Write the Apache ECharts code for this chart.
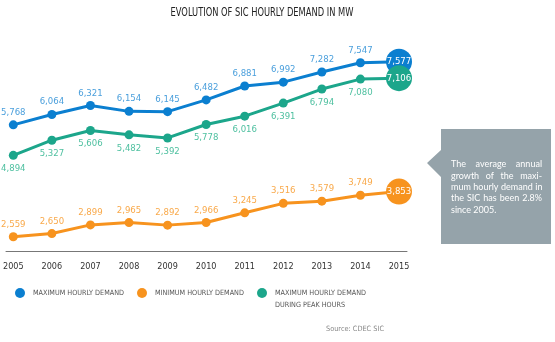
<!DOCTYPE html>
<html>
<head>
<meta charset="utf-8">
<script src="https://cdn.jsdelivr.net/npm/echarts@6/dist/echarts.min.js"></script>
<style>html,body{margin:0;padding:0;background:#fff}#c{width:555px;height:342px}</style>
</head>
<body>
<div id="c"></div>
<script>
const years = ['2005','2006','2007','2008','2009','2010','2011','2012','2013','2014','2015'];
const maxDemand = [5768,6064,6321,6154,6145,6482,6881,6992,7282,7547,7577];
const minDemand = [2559,2650,2899,2965,2892,2966,3245,3516,3579,3749,3853];
const peakDemand = [4894,5327,5606,5482,5392,5778,6016,6391,6794,7080,7106];
const titleText = 'EVOLUTION OF SIC HOURLY DEMAND IN MW';
const noteLines = ['The average annual','growth of the maxi-','mum hourly demand in','the SIC has been 2.8%','since 2005.'];
const sourceText = 'Source: CDEC SIC';

const NARROW = '"Liberation Sans Narrow","DejaVu Sans Condensed",sans-serif';
const NOTEFONT = 'Lato,"Open Sans",sans-serif';
const fmt = v => Number(v).toLocaleString('en-US');

function mkData(vals) {
  const last = vals.length - 1;
  return vals.map((v, i) => i === last
    ? {value: v, symbolSize: 26, label: {position: 'inside', distance: 0, color: '#fff', fontSize: 9.5}}
    : v);
}

function mkSeries(name, vals, color, labelColor, pos, dist) {
  return {
    name, type: 'line', data: mkData(vals),
    symbol: 'circle', symbolSize: 9, showSymbol: true,
    lineStyle: {color, width: 3}, itemStyle: {color},
    label: {show: true, position: pos, distance: dist, color: labelColor, fontSize: 9.5,
      fontFamily: NARROW, formatter: p => fmt(p.value)},
    emphasis: {disabled: true}, animation: false, z: 3
  };
}

// justified note text
const measureCtx = document.createElement('canvas').getContext('2d');
const noteFontSize = 9;
measureCtx.font = noteFontSize + 'px ' + NOTEFONT;
const noteLeft = 451, noteRight = 542, noteTop = 160, noteLH = 11.3;
const noteEls = [];
noteLines.forEach((line, li) => {
  const words = line.split(' ');
  const y = noteTop + li * noteLH;
  const isLast = li === noteLines.length - 1;
  if (isLast || words.length === 1) {
    noteEls.push({type: 'text', x: noteLeft, y: y, silent: true,
      style: {text: line, fill: '#fff', font: noteFontSize + 'px ' + NOTEFONT, textVerticalAlign: 'top'}});
    return;
  }
  const widths = words.map(w => measureCtx.measureText(w).width);
  const total = widths.reduce((a, b) => a + b, 0);
  const gap = Math.max(2.5, (noteRight - noteLeft - total) / (words.length - 1));
  let x = noteLeft;
  words.forEach((w, wi) => {
    noteEls.push({type: 'text', x: x, y: y, silent: true,
      style: {text: w, fill: '#fff', font: noteFontSize + 'px ' + NOTEFONT, textVerticalAlign: 'top'}});
    x += widths[wi] + gap;
  });
});

const chart = echarts.init(document.getElementById('c'), null, {renderer: 'canvas'});
const legendText = {color: '#555', fontSize: 7.2, fontFamily: NARROW, padding: [0, 0, 0, 3]};
const legendBase = {top: 283, icon: 'circle', itemWidth: 10, itemHeight: 10, textStyle: legendText, selectedMode: false};
chart.setOption({
  animation: false,
  grid: [
    {left: 13, right: 156, top: 47, bottom: 91},
    {left: 6, right: 148, top: 47, bottom: 91}
  ],
  xAxis: [
    {type: 'category', data: years, boundaryGap: false, gridIndex: 0,
      axisLine: {show: false}, axisTick: {show: false},
      axisLabel: {color: '#333', fontSize: 9, margin: 11, fontFamily: NARROW}},
    {type: 'value', gridIndex: 1, min: 0, max: 1,
      axisLine: {show: true, lineStyle: {color: '#777', width: 1}},
      axisTick: {show: false}, axisLabel: {show: false}, splitLine: {show: false}}
  ],
  yAxis: [
    {type: 'value', gridIndex: 0, min: 2150, max: 8000, show: false},
    {type: 'value', gridIndex: 1, min: 0, max: 1, show: false}
  ],
  legend: [
    Object.assign({data: ['MAXIMUM HOURLY DEMAND'], left: 10}, legendBase),
    Object.assign({data: ['MINIMUM HOURLY DEMAND'], left: 132}, legendBase),
    Object.assign({data: ['MAXIMUM HOURLY DEMAND DURING PEAK HOURS'], left: 252,
      formatter: () => 'MAXIMUM HOURLY DEMAND'}, legendBase)
  ],
  series: [
    mkSeries('MAXIMUM HOURLY DEMAND', maxDemand, '#0b7fd0', '#4a9fdc', 'top', 3),
    mkSeries('MINIMUM HOURLY DEMAND', minDemand, '#f7931e', '#f9a94a', 'top', 3),
    mkSeries('MAXIMUM HOURLY DEMAND DURING PEAK HOURS', peakDemand, '#1ca68b', '#4fc0a0', 'bottom', 4)
  ],
  graphic: [
    {type: 'text', x: 262, y: 13, scaleX: 0.77, silent: true,
      style: {text: titleText, fill: '#222', font: '12px ' + NARROW, textAlign: 'center', textVerticalAlign: 'middle'}},
    {type: 'text', x: 275, y: 301.5, silent: true,
      style: {text: 'DURING PEAK HOURS', fill: '#555', font: '7.2px ' + NARROW, textVerticalAlign: 'top'}},
    {type: 'text', x: 326, y: 326, silent: true,
      style: {text: sourceText, fill: '#888', font: '7.3px ' + NARROW, textVerticalAlign: 'top'}},
    {type: 'polygon', silent: true, shape: {points: [[441,129],[551,129],[551,244],[441,244],[441,177],[427,163],[441,150]]},
      style: {fill: '#95a3aa'}},
    ...noteEls
  ]
});
</script>
</body>
</html>
